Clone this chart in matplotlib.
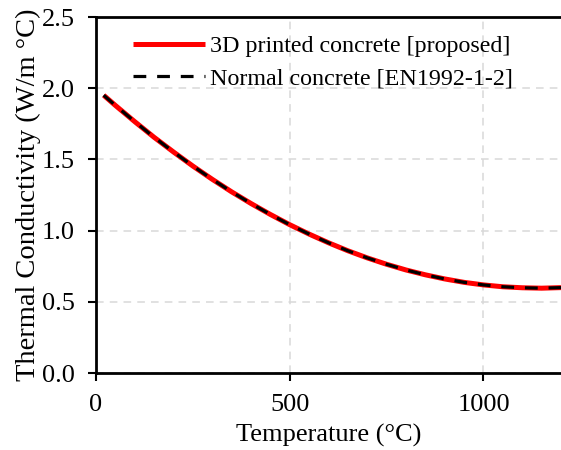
import matplotlib
matplotlib.use('Agg')
import matplotlib.pyplot as plt

# temperature (°C) and thermal conductivity (W/m °C)
temp = [20, 50, 100, 150, 200, 250, 300, 350, 400, 450, 500, 550, 600,
        650, 700, 750, 800, 850, 900, 950, 1000, 1050, 1100, 1150, 1200]
k_printed = [1.951, 1.880, 1.766, 1.656, 1.553, 1.454, 1.361, 1.273, 1.191,
             1.114, 1.042, 0.976, 0.915, 0.859, 0.809, 0.764, 0.724, 0.690,
             0.661, 0.637, 0.619, 0.606, 0.599, 0.596, 0.600]
k_normal = [1.951, 1.880, 1.766, 1.656, 1.553, 1.454, 1.361, 1.273, 1.191,
            1.114, 1.042, 0.976, 0.915, 0.859, 0.809, 0.764, 0.724, 0.690,
            0.661, 0.637, 0.619, 0.606, 0.599, 0.596, 0.600]

plt.rcParams['font.family'] = ['Liberation Serif', 'DejaVu Serif']

fig = plt.figure(figsize=(5.61, 4.5), dpi=100)
ax = fig.add_axes([0.171, 0.171, 0.829, 0.791])

ax.plot(temp, k_printed, color='red', lw=3.6, solid_capstyle='butt',
        label='3D printed concrete [proposed]')
ax.plot(temp, k_normal, color='black', lw=2.3, dashes=(4, 3.4),
        label='Normal concrete [EN1992-1-2]')

ax.set_xlim(0, 1200)
ax.set_ylim(0, 2.5)
ax.set_xticks([0, 500, 1000])
ax.set_yticks([0.0, 0.5, 1.0, 1.5, 2.0, 2.5])
ax.set_yticklabels(['0.0', '0.5', '1.0', '1.5', '2.0', '2.5'])
ax.grid(True, color='#d9d9d9', ls=(0, (5, 4)), lw=1.1)
ax.tick_params(labelsize=19, direction='out', length=6, width=1.5, pad=9)
for s in ['left', 'bottom', 'top']:
    ax.spines[s].set_linewidth(2)
ax.spines['right'].set_visible(False)

ax.set_xlabel('Temperature (°C)', fontsize=19, labelpad=6)
ax.set_ylabel('Thermal Conductivity (W/m °C)', fontsize=20.5, labelpad=1)
ax.legend(loc='upper left', frameon=False, fontsize=17.3, handlelength=3.0,
          handletextpad=0.2, borderpad=0, borderaxespad=0, labelspacing=0.42,
          bbox_to_anchor=(0.08, 0.948))

fig.savefig('out.png', dpi=100)
